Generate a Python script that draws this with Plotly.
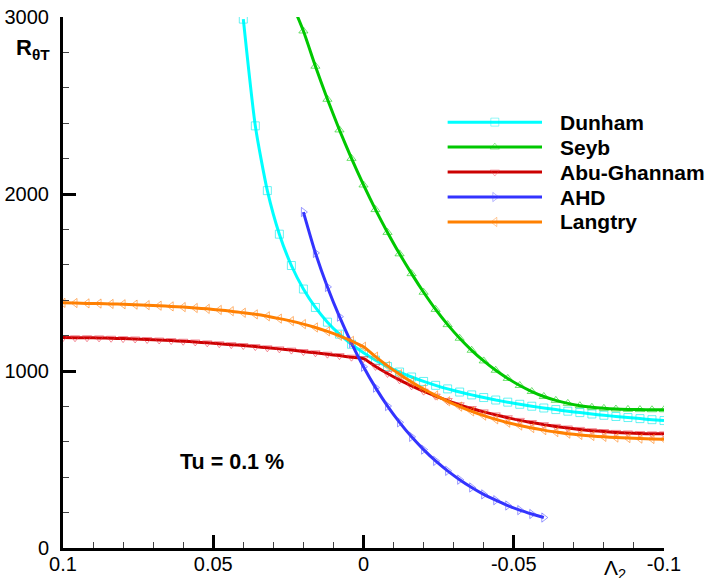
import plotly.graph_objects as go

# Pressure-gradient parameter, sampled every 0.004 from 0.1 down to -0.1
LAMBDA = [0.100, 0.096, 0.092, 0.088, 0.084, 0.080, 0.076, 0.072, 0.068, 0.064,
          0.060, 0.056, 0.052, 0.048, 0.044, 0.040, 0.036, 0.032, 0.028, 0.024,
          0.020, 0.016, 0.012, 0.008, 0.004, 0.000, -0.004, -0.008, -0.012, -0.016,
          -0.020, -0.024, -0.028, -0.032, -0.036, -0.040, -0.044, -0.048, -0.052, -0.056,
          -0.060, -0.064, -0.068, -0.072, -0.076, -0.080, -0.084, -0.088, -0.092, -0.096,
          -0.100]

# Transition-onset momentum-thickness Reynolds number, Tu = 0.1 %
dunham = [2988, 2385, 2019, 1773, 1596, 1463, 1359, 1276, 1208, 1151,
          1103, 1061, 1025, 994, 966, 941, 919, 899, 881, 865,
          850, 836, 824, 812, 801, 791, 782, 773, 765, 757,
          750, 743, 737, 731, 725, 720]                      # 0.040 .. -0.100
seyb = [3085, 2921, 2722, 2535, 2362, 2201, 2051, 1912, 1783, 1662,
        1550, 1445, 1348, 1262, 1185, 1117, 1057, 1004, 958, 918,
        884, 856, 834, 817, 804, 795, 789, 785, 783, 782,
        781, 781]                                            # 0.024 .. -0.100
abu_ghannam = [1189, 1188, 1188, 1187, 1185, 1183, 1181, 1178, 1175, 1172,
               1168, 1164, 1159, 1154, 1149, 1144, 1138, 1131, 1125, 1118,
               1110, 1103, 1095, 1087, 1078, 1070, 1026, 986, 950, 916,
               886, 858, 833, 809, 788, 769, 752, 736, 721, 709,
               697, 687, 678, 670, 663, 658, 653, 650, 647, 645,
               645]                                          # 0.100 .. -0.100
ahd = [1898, 1667, 1475, 1307, 1158, 1024, 906, 802, 710, 628,
       556, 492, 436, 386, 342, 303, 270, 240, 214, 192,
       172]                                                  # 0.020 .. -0.060
langtry = [1385, 1384, 1382, 1381, 1379, 1377, 1375, 1372, 1369, 1365,
           1361, 1356, 1351, 1345, 1338, 1329, 1320, 1309, 1296, 1282,
           1265, 1246, 1224, 1199, 1170, 1137, 1081, 1029, 982, 938,
           898, 862, 829, 799, 772, 748, 727, 708, 692, 678,
           666, 655, 646, 639, 633, 628, 624, 621, 618, 616,
           614]                                              # 0.100 .. -0.100

series = [
    ("Dunham", LAMBDA[15:], dunham, "#00FFFF", "rgba(0,235,235,0.6)", "square-open"),
    ("Seyb", LAMBDA[19:], seyb, "#00C800", "rgba(0,200,0,0.55)", "triangle-up-open"),
    ("Abu-Ghannam", LAMBDA, abu_ghannam, "#CC0000", "rgba(235,50,70,0.55)", "triangle-down-open"),
    ("AHD", LAMBDA[20:41], ahd, "#3333FF", "rgba(70,70,255,0.55)", "triangle-right-open"),
    ("Langtry", LAMBDA, langtry, "#FF8000", "rgba(255,130,20,0.6)", "triangle-left-open"),
]

FONT = "Liberation Sans, Arial, Helvetica, sans-serif"

fig = go.Figure()
for name, lx, ly, lc, mc, sym in series:
    fig.add_trace(go.Scatter(
        x=lx, y=ly, name=name, mode="lines+markers",
        line=dict(color=lc, width=3, shape="spline", smoothing=0.6),
        marker=dict(symbol=sym, size=8, color=mc, line=dict(width=1, color=mc)),
        showlegend=False,
    ))

# Legend block drawn on an overlay axis spanning the plot area (0..1)
leg_y = [0.802, 0.755, 0.708, 0.661, 0.614]
leg_x0, leg_x1 = 0.640, 0.797
for (name, _, _, lc, mc, sym), yy in zip(series, leg_y):
    fig.add_trace(go.Scatter(
        x=[leg_x0, (leg_x0 + leg_x1) / 2, leg_x1], y=[yy, yy, yy],
        xaxis="x2", yaxis="y2", mode="lines+markers",
        line=dict(color=lc, width=3),
        marker=dict(symbol=sym, size=[0, 8, 0], color=mc, line=dict(width=1, color=mc)),
        showlegend=False, hoverinfo="skip",
    ))
    fig.add_annotation(x=0.824, y=yy, xref="paper", yref="paper", text=f"<b>{name}</b>",
                       showarrow=False, xanchor="left", yanchor="middle",
                       font=dict(family=FONT, size=21, color="black"))

fig.add_annotation(x=0.191, y=0.162, xref="paper", yref="paper", text="<b>Tu = 0.1 %</b>",
                   showarrow=False, xanchor="left", yanchor="middle",
                   font=dict(family=FONT, size=21.5, color="black"))
fig.add_annotation(x=-0.082, y=0.94, xref="paper", yref="paper",
                   text="<b>R</b><sub><b>θT</b></sub>",
                   showarrow=False, xanchor="left", yanchor="middle",
                   font=dict(family=FONT, size=22, color="black"))
fig.add_annotation(x=0.918, y=-0.012, xref="paper", yref="paper",
                   text="Λ<sub>2</sub>",
                   showarrow=False, xanchor="center", yanchor="top",
                   font=dict(family=FONT, size=21, color="black"))

fig.update_layout(
    width=705, height=578,
    margin=dict(l=63, r=41, t=17, b=30),
    paper_bgcolor="white", plot_bgcolor="white",
    font=dict(family=FONT, size=20, color="black"),
    xaxis=dict(
        range=[0.1, -0.1], tickmode="array",
        tickvals=[0.1, 0.05, 0, -0.05, -0.1],
        ticktext=["0.1", "0.05", "0", "-0.05", "-0.1"],
        ticks="inside", ticklen=13, tickwidth=3, tickcolor="black",
        minor=dict(dtick=0.01, tick0=0, ticks="inside", ticklen=6, tickwidth=1, tickcolor="#444"),
        showline=True, linecolor="black", linewidth=3, mirror=False,
        showgrid=False, zeroline=False, ticklabelstandoff=-4, automargin=False,
    ),
    yaxis=dict(
        range=[0, 3000], tickmode="array", tickvals=[0, 1000, 2000, 3000],
        ticktext=["0", "1000", "2000", "3000"],
        ticks="inside", ticklen=13, tickwidth=3, tickcolor="black",
        minor=dict(dtick=200, tick0=0, ticks="inside", ticklen=6, tickwidth=1, tickcolor="#444"),
        showline=True, linecolor="black", linewidth=3, mirror=False,
        showgrid=False, zeroline=False, ticklabelstandoff=7, automargin=False,
    ),
    xaxis2=dict(overlaying="x", range=[0, 1], visible=False, anchor="y2"),
    yaxis2=dict(overlaying="y", range=[0, 1], visible=False, anchor="x2"),
)

fig.write_html("out.html")
